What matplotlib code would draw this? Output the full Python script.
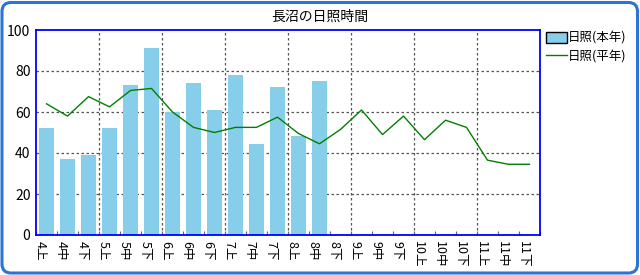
import matplotlib
matplotlib.use("Agg")
import matplotlib.pyplot as plt
from matplotlib.patches import FancyBboxPatch, Patch
from matplotlib.lines import Line2D
from matplotlib.transforms import IdentityTransform
import numpy as np

plt.rcParams['font.family'] = ['Noto Sans CJK JP', 'DejaVu Sans']

categories = ["4上", "4中", "4下", "5上", "5中", "5下", "6上", "6中", "6下",
              "7上", "7中", "7下", "8上", "8中", "8下", "9上", "9中", "9下",
              "10上", "10中", "10下", "11上", "11中", "11下"]
this_year = [52, 37, 39, 52, 73, 91, 60, 74, 61, 78, 44.5, 72, 48.5, 75]
normal_year = [64, 58, 67.5, 62.5, 70.5, 71.5, 60, 52.5, 50, 52.5, 52.5, 57.5,
               49.5, 44.5, 51.5, 61, 49, 58, 46.5, 56, 52.5, 36.5, 34.5, 34.5]
title = "長沼の日照時間"
label_this = "日照(本年)"
label_normal = "日照(平年)"

W, H = 640, 275
fig = plt.figure(figsize=(W / 100, H / 100), dpi=100)
fig.patch.set_facecolor('white')

# rounded outer border
border = FancyBboxPatch((2, 2), W - 4.5, H - 4.5,
                        boxstyle="round,pad=0,rounding_size=9",
                        transform=IdentityTransform(), facecolor='none',
                        edgecolor='#2a74d2', linewidth=2.2, zorder=10)
fig.patches.append(border)

L, R, T, B = 36, 540, 30, 235
ax = fig.add_axes([L / W, (H - B) / H, (R - L) / W, (B - T) / H])
ax.set_facecolor('white')

n = len(categories)
xs = np.arange(n) + 0.5
ax.bar(xs[:len(this_year)], this_year, width=0.67, color='#87ceeb', zorder=2)
ax.plot(xs, normal_year, color='#008000', linewidth=1.0, zorder=3)

ax.set_xlim(0, n)
ax.set_ylim(0, 100)
ax.set_yticks([0, 20, 40, 60, 80, 100])
ax.tick_params(axis='y', length=0, labelsize=10, pad=4)

ax.set_xticks(np.arange(n + 1), minor=False)
ax.set_xticklabels([])
ax.tick_params(axis='x', length=3, direction='in', color='#666666', width=0.8)
for i, c in enumerate(categories):
    ax.text(i + 0.2, -0.03, c, transform=ax.get_xaxis_transform(),
            rotation=270, ha='center', va='top', fontsize=9)

for y in [20, 40, 60, 80]:
    ax.axhline(y, color='#555555', linestyle=(0, (2, 2)), linewidth=0.9, zorder=1)
for x in range(3, n, 3):
    ax.axvline(x, color='#555555', linestyle=(0, (2, 2)), linewidth=0.9, zorder=1)

for s in ax.spines.values():
    s.set_color('#0000ff')
    s.set_linewidth(1.3)

fig.text(320 / W, 1 - 17 / H, title, ha='center', va='center', fontsize=10)

handles = [Patch(facecolor='#87ceeb', edgecolor='black', linewidth=1.0),
           Line2D([0], [0], color='#008000', linewidth=1.0)]
fig.legend(handles, [label_this, label_normal], loc='upper left',
           bbox_to_anchor=(543 / W, 1 - 29 / H), frameon=False, fontsize=9,
           handlelength=1.7, handleheight=1.0, handletextpad=0.1,
           labelspacing=0.45, borderpad=0.2, borderaxespad=0)

fig.savefig('out.png', dpi=100, facecolor='white')
